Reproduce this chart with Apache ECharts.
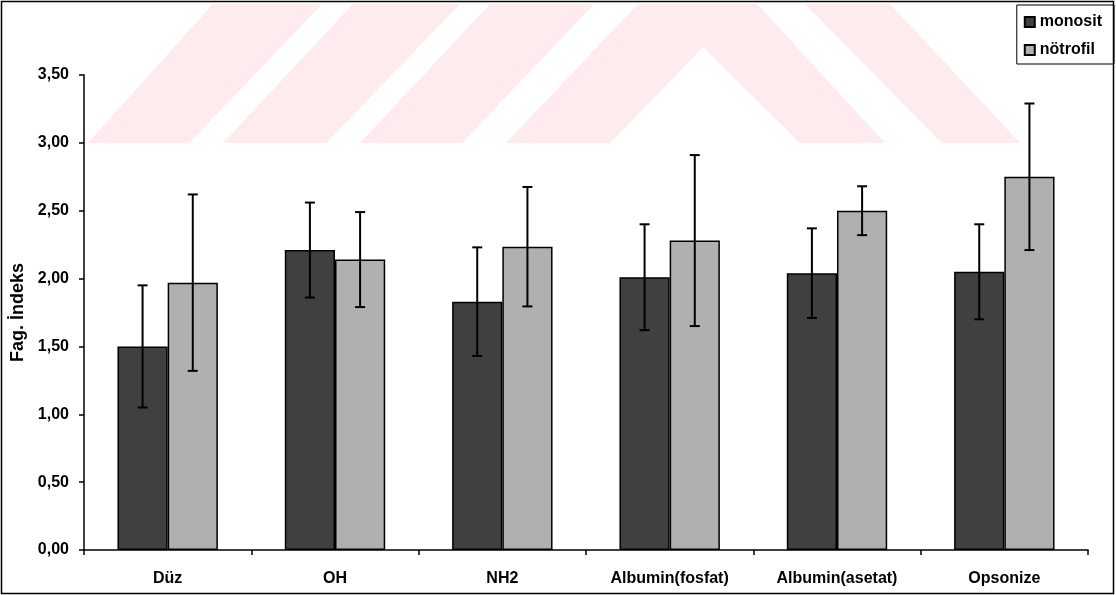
<!DOCTYPE html>
<html>
<head>
<meta charset="utf-8">
<script src="https://cdn.jsdelivr.net/npm/echarts@6/dist/echarts.min.js"></script>
<style>
html,body{margin:0;padding:0;background:#fff;}
#chart{width:1116px;height:595px;}
</style>
</head>
<body>
<div id="chart"></div>
<script>
const categories = ['Düz', 'OH', 'NH2', 'Albumin(fosfat)', 'Albumin(asetat)', 'Opsonize'];
const seriesNames = ['monosit', 'nötrofil'];
const monositMean = [1.50, 2.21, 1.83, 2.01, 2.04, 2.05];
const monositSD = [0.45, 0.35, 0.40, 0.39, 0.33, 0.35];
const notrofilMean = [1.97, 2.14, 2.235, 2.28, 2.50, 2.75];
const notrofilSD = [0.65, 0.35, 0.44, 0.63, 0.18, 0.54];
const yTickLabels = ['0,00', '0,50', '1,00', '1,50', '2,00', '2,50', '3,00', '3,50'];
const yAxisTitle = 'Fag. İndeks';

const FONT = '"Liberation Sans", Arial, sans-serif';
const chart = echarts.init(document.getElementById('chart'), null, {renderer: 'canvas'});

function errData(mean, sd) {
  return mean.map((m, i) => [i, m - sd[i], m + sd[i]]);
}
function errRender(frac) {
  return function (params, api) {
    const i = api.value(0);
    const lo = api.coord([i, api.value(1)]);
    const hi = api.coord([i, api.value(2)]);
    const bw = api.size([1, 0])[0];
    const x = lo[0] + frac * bw;
    const cap = 5;
    const st = {stroke: '#000', lineWidth: 2};
    return {
      type: 'group',
      children: [
        {type: 'line', shape: {x1: x, y1: lo[1], x2: x, y2: hi[1]}, style: st},
        {type: 'line', shape: {x1: x - cap, y1: hi[1], x2: x + cap, y2: hi[1]}, style: st},
        {type: 'line', shape: {x1: x - cap, y1: lo[1], x2: x + cap, y2: lo[1]}, style: st}
      ]
    };
  };
}

const pink = '#fdebee';
function poly(points) {
  return {type: 'polygon', shape: {points: points}, style: {fill: pink}, silent: true, z: -10};
}

const option = {
  animation: false,
  backgroundColor: '#fff',
  textStyle: {fontFamily: FONT},
  grid: {left: 84, right: 28, top: 75, bottom: 45, containLabel: false},
  legend: {
    data: seriesNames,
    orient: 'vertical',
    right: 2,
    top: 5,
    padding: [9, 12, 6, 7],
    itemGap: 12,
    itemWidth: 10,
    itemHeight: 10,
    icon: 'rect',
    borderColor: '#000',
    borderWidth: 1,
    textStyle: {fontFamily: FONT, fontSize: 16, fontWeight: 'bold', color: '#000', lineHeight: 16}
  },
  xAxis: {
    type: 'category',
    data: categories,
    boundaryGap: true,
    axisLine: {show: true, lineStyle: {color: '#000', width: 1.5}},
    axisTick: {show: true, length: 5, inside: false, lineStyle: {color: '#000', width: 1.5}},
    axisLabel: {margin: 21, fontFamily: FONT, fontSize: 16, fontWeight: 'bold', color: '#000', interval: 0},
    splitLine: {show: false}
  },
  yAxis: {
    type: 'value',
    min: 0,
    max: 3.5,
    interval: 0.5,
    name: yAxisTitle,
    nameLocation: 'middle',
    nameGap: 54,
    nameRotate: 90,
    nameTextStyle: {fontFamily: FONT, fontSize: 18, fontWeight: 'bold', color: '#000'},
    axisLine: {show: true, lineStyle: {color: '#000', width: 1.5}},
    axisTick: {show: true, length: 5, inside: false, lineStyle: {color: '#000', width: 1.5}},
    axisLabel: {
      margin: 15, fontFamily: FONT, fontSize: 16, fontWeight: 'bold', color: '#000',
      formatter: function (v) { return yTickLabels[Math.round(v / 0.5)]; }
    },
    splitLine: {show: false}
  },
  graphic: [
    poly([[88, 143], [189, 143], [322, 4], [213, 4]]),
    poly([[223, 143], [326, 143], [460, 4], [353, 4]]),
    poly([[360, 143], [462, 143], [594, 4], [490, 4]]),
    poly([[506, 143], [610, 143], [703, 47], [800, 143], [885, 143], [757, 4], [638, 4]]),
    poly([[942, 143], [1020, 143], [890, 4], [805, 4]]),
    {type: 'rect', shape: {x: 1.5, y: 1.5, width: 1112, height: 592}, style: {fill: 'none', stroke: '#000', lineWidth: 1.5}, silent: true, z: 100}
  ],
  series: [
    {
      name: seriesNames[0],
      type: 'bar',
      data: monositMean,
      barWidth: '30%',
      barGap: '0%',
      itemStyle: {color: '#404040', borderColor: '#000', borderWidth: 1.5}
    },
    {
      name: seriesNames[1],
      type: 'bar',
      data: notrofilMean,
      barWidth: '30%',
      barGap: '0%',
      itemStyle: {color: '#b0b0b0', borderColor: '#000', borderWidth: 1.5}
    },
    {
      type: 'custom',
      renderItem: errRender(-0.15),
      data: errData(monositMean, monositSD),
      encode: {x: 0, y: [1, 2]},
      z: 5
    },
    {
      type: 'custom',
      renderItem: errRender(0.15),
      data: errData(notrofilMean, notrofilSD),
      encode: {x: 0, y: [1, 2]},
      z: 5
    }
  ]
};
chart.setOption(option);
</script>
</body>
</html>
